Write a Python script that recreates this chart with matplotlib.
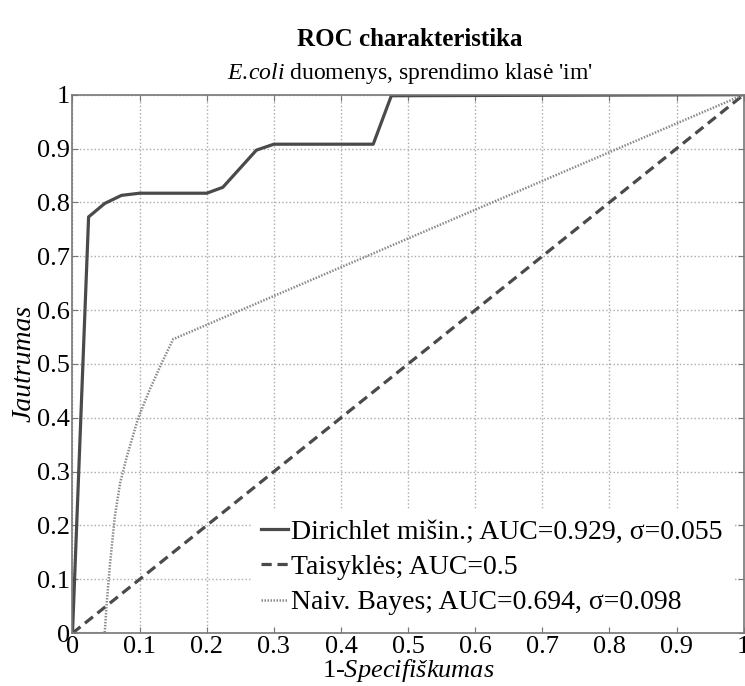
import matplotlib.pyplot as plt
import numpy as np

plt.rcParams['font.family'] = ['Liberation Serif', 'DejaVu Serif']
plt.rcParams['mathtext.fontset'] = 'custom'
plt.rcParams['mathtext.rm'] = 'Liberation Serif'
plt.rcParams['mathtext.it'] = 'Liberation Serif:italic'

# ROC curves (false positive rate, true positive rate)
dir_fpr = [0, 0.024, 0.048, 0.073, 0.1, 0.2, 0.224, 0.274, 0.3, 0.448, 0.475, 1.0]
dir_tpr = [0, 0.773, 0.798, 0.813, 0.817, 0.817, 0.828, 0.897, 0.908, 0.908, 0.998, 1.0]

rule_fpr = [0, 1]
rule_tpr = [0, 1]

nb_fpr = [0, 0.048, 0.051, 0.056, 0.063, 0.071, 0.081, 0.098, 0.115, 0.133, 0.15, 1.0]
nb_tpr = [0, 0.0, 0.056, 0.13, 0.216, 0.279, 0.328, 0.40, 0.452, 0.502, 0.546, 1.0]

labels = ['Dirichlet mišin.; AUC=0.929, σ=0.055',
          'Taisyklės; AUC=0.5',
          'Naiv. Bayes; AUC=0.694, σ=0.098']

ticks = np.round(np.arange(0, 1.01, 0.1), 1)
tick_labels = ['0'] + ['%.1f' % t for t in ticks[1:-1]] + ['1']

fig = plt.figure(figsize=(7.45, 6.86), dpi=100)
ax = fig.add_axes([0.0973, 0.077, 0.901, 0.785])

ax.plot(dir_fpr, dir_tpr, '-', color='#4a4a4a', lw=2.3, label=labels[0])
ax.plot(rule_fpr, rule_tpr, '--', color='#4a4a4a', lw=2.3, dashes=(3.2, 1.8), label=labels[1])
ax.plot(nb_fpr, nb_tpr, ':', color='#8a8a8a', lw=1.8, dashes=(0.6, 0.6), label=labels[2])

ax.set_xlim(0, 1)
ax.set_ylim(0, 1)
ax.set_xticks(ticks)
ax.set_yticks(ticks)
ax.set_xticklabels(tick_labels)
ax.set_yticklabels(tick_labels)
ax.tick_params(direction='in', top=True, right=True, labelsize=19, length=4,
               color='#777777', pad=2)
ax.grid(True, linestyle=':', color='#aaaaaa', lw=1)
for s in ax.spines.values():
    s.set_color('#777777')
    s.set_linewidth(1.2)

ax.set_xlabel('1-$Specifiškumas$', fontsize=19, labelpad=-1)
ax.set_ylabel('Jautrumas', fontsize=20, style='italic', labelpad=0)

fig.text(0.55, 0.943, 'ROC charakteristika', ha='center', va='center',
         fontsize=18, fontweight='bold')
fig.text(0.55, 0.893, '$E.\\!coli$ duomenys, sprendimo klasė \'im\'', ha='center',
         va='center', fontsize=17)

leg = ax.legend(loc='lower right', bbox_to_anchor=(0.983, 0.015), fontsize=20,
                frameon=True, handlelength=1.0, handletextpad=0.1, borderpad=0.35,
                labelspacing=0.36, borderaxespad=0, fancybox=False)
leg.get_frame().set_edgecolor('white')
leg.get_frame().set_facecolor('white')
leg.get_frame().set_alpha(1)

fig.savefig('out.png', dpi=100)
